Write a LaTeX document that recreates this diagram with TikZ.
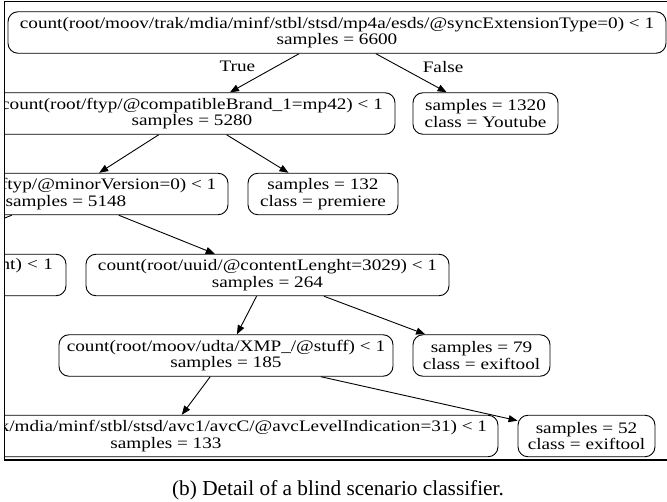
\documentclass[tikz,border=0pt]{standalone}
\usepackage{fontspec}
\setmainfont{Liberation Serif}
\newfontfamily\gvfont[FakeStretch=1.2]{Liberation Serif}
\newcommand\gvtight{\lineskiplimit=-100pt\relax\lineskip=0pt\relax}
\newcommand\gvtext{\gvfont\fontsize{16}{16.4}\selectfont\gvtight}
\usetikzlibrary{arrows.meta}
\begin{document}
\begin{tikzpicture}[x=1pt,y=-1pt,
  tnode/.style={draw, rounded corners=10pt, inner sep=0pt, align=center, minimum height=41.5pt, font=\gvtext, line width=0.9pt},
  edge/.style={draw, line width=0.9pt, -{Triangle[length=9pt,width=7pt]}},
  elabel/.style={font=\gvtext, inner sep=0pt},
  frame/.style={draw, line width=1pt}]
\useasboundingbox (0,0) rectangle (667,502);
\begin{scope}
\clip (4,2) rectangle (667,459);
\node[tnode, minimum width=658pt] (top) at (337,32.5) {count(root/moov/trak/mdia/minf/stbl/stsd/mp4a/esds/@syncExtensionType=0) < 1\\samples = 6600};
\node[tnode, minimum width=406pt] (n5280) at (192,113.5) {count(root/ftyp/@compatibleBrand\_1=mp42) < 1\\samples = 5280};
\node[tnode, minimum width=145pt] (n1320) at (485.5,113.5) {samples = 1320\\class = Youtube};
\node[tnode, minimum width=324pt] (n5148) at (66,194) {count(root/ftyp/@minorVersion=0) < 1\\samples = 5148};
\node[tnode, minimum width=150pt] (n132) at (323,194) {samples = 132\\class = premiere};
\node[tnode, minimum width=414pt, text width=388pt, align=right] (nleft) at (-141,275) {nt) < 1\\\strut};
\node[tnode, minimum width=363pt] (n264) at (267.5,275) {count(root/uuid/@contentLenght=3029) < 1\\samples = 264};
\node[tnode, minimum width=334pt] (n185) at (226,355.5) {count(root/moov/udta/XMP\_/@stuff) < 1\\samples = 185};
\node[tnode, minimum width=137pt] (n79) at (481.5,355.5) {samples = 79\\class = exiftool};
\node[tnode, minimum width=664pt] (n133) at (166,436) {count(root/moov/trak/mdia/minf/stbl/stsd/avc1/avcC/@avcLevelIndication=31) < 1\\samples = 133};
\node[tnode, minimum width=137pt] (n52) at (586.5,436) {samples = 52\\class = exiftool};
\draw[edge] (top) -- node[elabel, pos=0.3, xshift=-41pt, yshift=-1.5pt] {True} (n5280);
\draw[edge] (top) -- node[elabel, pos=0.3, xshift=46pt, yshift=-1.5pt] {False} (n1320);
\draw[edge] (n5280) -- (n5148);
\draw[edge] (n5280) -- (n132);
\draw[edge] (n5148) -- (nleft);
\draw[edge] (n5148) -- (n264);
\draw[edge] (n264) -- (n185);
\draw[edge] (n264) -- (n79);
\draw[edge] (n185) -- (n133);
\draw[edge] (n185) -- (n52);
\end{scope}
\coordinate (ftl) at (4,2);
\coordinate (ftr) at (667,2);
\coordinate (fbl) at (4,460);
\coordinate (fbr) at (667,460);
\draw[frame] (ftr) -- (ftl) -- (fbl);
\draw[frame, line width=2.2pt] (fbl) -- (fbr);
\node[font=\fontsize{21.3}{24}\selectfont, inner sep=0pt, anchor=base] (cap) at (338,495.5) {(b) Detail of a blind scenario classifier.};
\end{tikzpicture}
\end{document}
